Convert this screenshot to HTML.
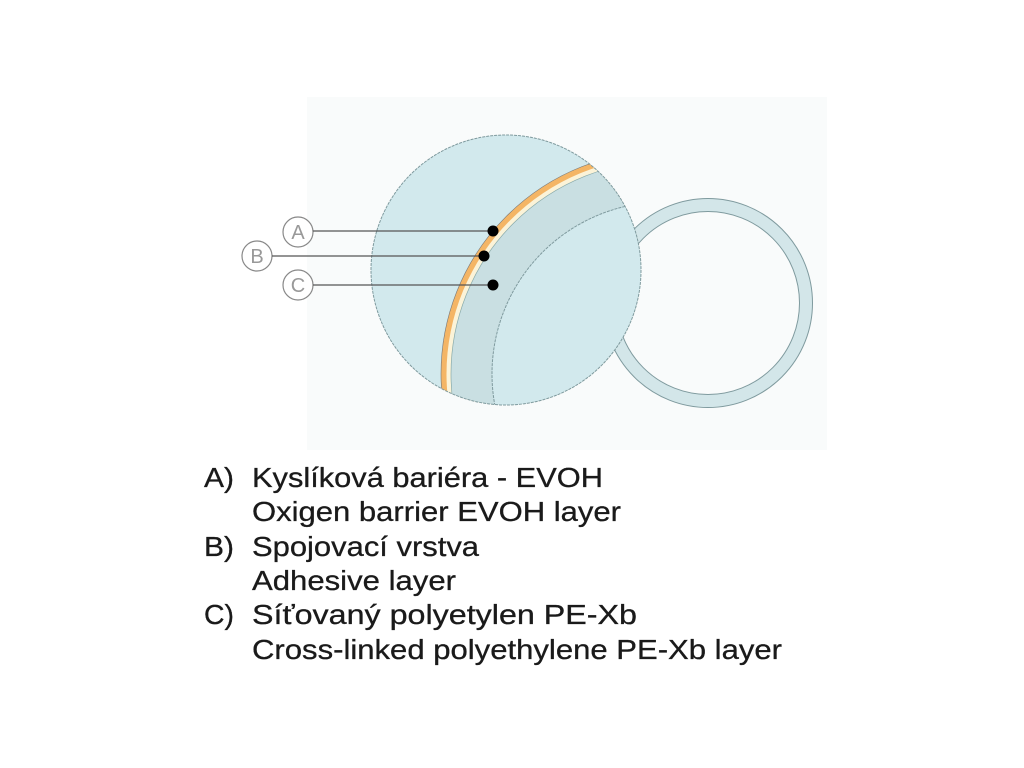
<!DOCTYPE html>
<html><head><meta charset="utf-8"><style>
html,body{margin:0;padding:0;background:#fff;}
svg{display:block}
text{font-family:"Liberation Sans",sans-serif;}
</style></head><body>
<svg width="1024" height="768" viewBox="0 0 1024 768">
<rect x="307" y="97" width="520" height="353" fill="#f9fbfb"/>
<defs><clipPath id="bc"><circle cx="506" cy="270" r="135"/></clipPath></defs>
<circle cx="708" cy="303" r="98" fill="none" stroke="#d3e6e9" stroke-width="13"/>
<circle cx="708" cy="303" r="104.5" fill="none" stroke="#7f9a9e" stroke-width="1"/>
<circle cx="708" cy="303" r="91.5" fill="none" stroke="#7f9a9e" stroke-width="1"/>
<circle cx="506" cy="270" r="135" fill="#d2e9ed"/>
<g clip-path="url(#bc)">
<circle cx="664" cy="374" r="223" fill="#f4b565" stroke="#777" stroke-width="0.6"/>
<circle cx="664" cy="374" r="217.5" fill="#fbf3d8"/>
<circle cx="664" cy="374" r="213" fill="#c9dfe2" stroke="#8aa" stroke-width="0.7"/>
<circle cx="664" cy="374" r="172" fill="#d2e9ed" stroke="#7f9a9e" stroke-width="1" stroke-dasharray="3,1"/>
</g>
<circle cx="506" cy="270" r="135" fill="none" stroke="#7f9a9e" stroke-width="1" stroke-dasharray="3,1"/>
<g stroke="#888" stroke-width="1.2" fill="#fff">
<circle cx="298" cy="232" r="15"/>
<circle cx="257" cy="256" r="15"/>
<circle cx="298" cy="285" r="15"/>
</g>
<g stroke="#555" stroke-width="1.2">
<line x1="313" y1="231" x2="493" y2="231"/>
<line x1="272" y1="256" x2="484" y2="256"/>
<line x1="313" y1="285" x2="493" y2="285"/>
</g>
<g fill="#000">
<circle cx="493" cy="231" r="5.5"/>
<circle cx="484" cy="256" r="5.5"/>
<circle cx="493" cy="285" r="5.5"/>
</g>
<g fill="#999" font-size="20" text-anchor="middle">
<text x="298" y="239">A</text>
<text x="257" y="263">B</text>
<text x="298" y="292">C</text>
</g>
<g fill="#1a1a1a" font-size="28" stroke="#1a1a1a" stroke-width="0.3" lengthAdjust="spacingAndGlyphs">
<text x="204" y="487" textLength="30" lengthAdjust="spacingAndGlyphs">A)</text>
<text x="252" y="487" textLength="351" lengthAdjust="spacingAndGlyphs">Kyslíková bariéra -  EVOH</text>
<text x="252" y="521" textLength="369" lengthAdjust="spacingAndGlyphs">Oxigen barrier EVOH layer</text>
<text x="204" y="556" textLength="30" lengthAdjust="spacingAndGlyphs">B)</text>
<text x="252" y="556" textLength="227" lengthAdjust="spacingAndGlyphs">Spojovací vrstva</text>
<text x="252" y="590" textLength="204" lengthAdjust="spacingAndGlyphs">Adhesive layer</text>
<text x="204" y="624" textLength="30" lengthAdjust="spacingAndGlyphs">C)</text>
<text x="252" y="624" textLength="385" lengthAdjust="spacingAndGlyphs">Síťovaný polyetylen PE-Xb</text>
<text x="252" y="659" textLength="530" lengthAdjust="spacingAndGlyphs">Cross-linked polyethylene PE-Xb layer</text>
</g>
</svg>
</body></html>
